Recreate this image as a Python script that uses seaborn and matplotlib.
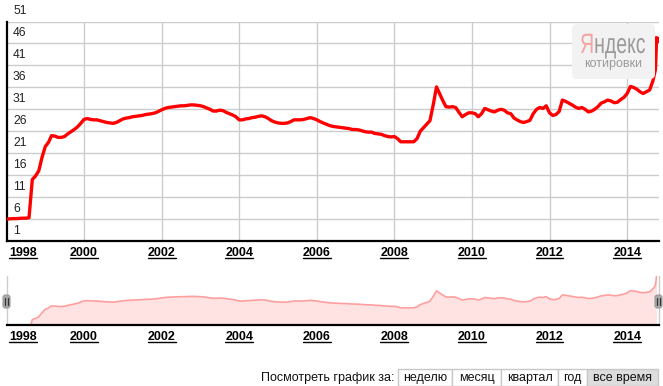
import matplotlib
matplotlib.use('Agg')
import matplotlib.pyplot as plt
import matplotlib.transforms as mtransforms
from matplotlib.patches import FancyBboxPatch, Rectangle, PathPatch
from matplotlib.lines import Line2D
from matplotlib.textpath import TextPath
from matplotlib.font_manager import FontProperties
import pandas as pd
import seaborn as sns

# USD/RUB, first of every month, Jan 1998 .. Sep 2014
rate_1998 = [6.0, 6.05, 6.1, 6.1, 6.15, 6.2, 6.2, 6.3, 15.0, 15.8, 17.0, 20.0]
rate_1999 = [22.5, 23.5, 25.0, 24.9, 24.6, 24.6, 24.8, 25.4, 25.9, 26.4, 27.0, 27.8]
rate_2000 = [28.7, 28.9, 28.7, 28.6, 28.6, 28.4, 28.2, 28.0, 27.9, 27.8, 28.0, 28.4]
rate_2001 = [28.8, 29.0, 29.1, 29.3, 29.4, 29.5, 29.6, 29.8, 29.9, 30.0, 30.2, 30.5]
rate_2002 = [30.9, 31.2, 31.4, 31.5, 31.6, 31.7, 31.8, 31.8, 31.9, 32.0, 32.0, 31.9]
rate_2003 = [31.8, 31.6, 31.3, 31.0, 30.6, 30.6, 30.8, 30.7, 30.3, 30.0, 29.7, 29.3]
rate_2004 = [28.6, 28.6, 28.8, 28.9, 29.1, 29.2, 29.4, 29.5, 29.3, 28.9, 28.4, 28.1]
rate_2005 = [27.9, 27.8, 27.8, 27.9, 28.2, 28.6, 28.6, 28.6, 28.7, 28.9, 29.1, 28.9]
rate_2006 = [28.6, 28.2, 27.9, 27.6, 27.3, 27.1, 27.0, 26.9, 26.8, 26.7, 26.6, 26.4]
rate_2007 = [26.4, 26.3, 26.1, 25.9, 25.8, 25.8, 25.5, 25.4, 25.3, 25.0, 24.8, 24.7]
rate_2008 = [24.8, 24.3, 23.6, 23.6, 23.6, 23.6, 23.6, 24.3, 26.0, 26.8, 27.6, 28.4]
rate_2009 = [32.0, 36.1, 34.6, 33.0, 31.6, 31.5, 31.6, 31.4, 30.3, 29.3, 29.8, 30.2]
rate_2010 = [30.2, 30.0, 29.3, 30.0, 31.2, 30.9, 30.6, 30.4, 30.8, 31.0, 30.8, 30.2]
rate_2011 = [30.0, 29.0, 28.6, 28.2, 28.0, 28.2, 28.5, 30.0, 31.0, 31.4, 31.2, 31.8]
rate_2012 = [30.2, 29.6, 29.8, 30.5, 33.1, 32.8, 32.4, 32.0, 31.5, 31.2, 31.4, 31.0]
rate_2013 = [30.4, 30.6, 31.0, 31.6, 32.4, 32.7, 33.1, 32.9, 32.5, 32.6, 33.2, 33.7]
rate_2014 = [34.6, 36.2, 36.0, 35.6, 35.0, 34.6, 35.0, 35.4, 37.5]

# last few quotes of the run-up in autumn 2014
tail_dates = ['2014-09-24', '2014-09-30', '2014-10-04']
tail_rates = [40.0, 43.5, 46.8]

y_ticks = [1, 6, 11, 16, 21, 26, 31, 36, 41, 46, 51]
year_labels = ['1998', '2000', '2002', '2004', '2006', '2008', '2010', '2012', '2014']
period_buttons = ['неделю', 'месяц', 'квартал', 'год', 'все время']

monthly = (rate_1998 + rate_1999 + rate_2000 + rate_2001 + rate_2002 + rate_2003 +
           rate_2004 + rate_2005 + rate_2006 + rate_2007 + rate_2008 + rate_2009 +
           rate_2010 + rate_2011 + rate_2012 + rate_2013 + rate_2014)
dates = list(pd.date_range('1998-01-01', periods=len(monthly), freq='MS')) + list(pd.to_datetime(tail_dates))
df = pd.DataFrame({'date': dates, 'rate': monthly + tail_rates})

sns.set_style('white')
plt.rcParams['font.family'] = ['Liberation Sans', 'DejaVu Sans']

W, H = 663, 386
fig = plt.figure(figsize=(W / 100, H / 100), dpi=100)
px = mtransforms.IdentityTransform()


def box(x0, y0, x1, y1):
    # pixel box (top-left origin) -> figure fraction rect
    return [x0 / W, 1 - y1 / H, (x1 - x0) / W, (y1 - y0) / H]


x_left = pd.Timestamp('1998-01-01')
x_right = pd.Timestamp('2014-10-28')

# ---- main chart ----
ax = fig.add_axes(box(6.5, 21.5, 659, 241))
sns.lineplot(data=df, x='date', y='rate', ax=ax, color='#ff0000', linewidth=2.4, zorder=5)
sns.scatterplot(data=df.tail(1), x='date', y='rate', ax=ax, color='#ff0000', s=30,
                edgecolor='none', zorder=6, legend=False)
ax.set_xlim(x_left, x_right)
ax.set_ylim(y_ticks[0], y_ticks[-1])
ax.set_yticks(y_ticks)
ax.set_xticks(pd.to_datetime([y + '-01-01' for y in year_labels[1:]]))
ax.grid(True, color='#cccccc', linewidth=1)
ax.tick_params(length=0, labelleft=False, labelbottom=False)
ax.set_xlabel('')
ax.set_ylabel('')
for side in ['top', 'right']:
    ax.spines[side].set_visible(False)
for side in ['left', 'bottom']:
    ax.spines[side].set_color('black')
    ax.spines[side].set_linewidth(1.6)

# value labels sit just above their grid line
ylab_tr = mtransforms.offset_copy(mtransforms.blended_transform_factory(ax.transAxes, ax.transData),
                                  fig=fig, x=0, y=3.0, units='points')
for v in y_ticks:
    ax.text(0.01, v, str(v), transform=ylab_tr, ha='left', va='bottom', fontsize=8.7,
            color='#222222', clip_on=False)

# ---- navigator ----
nav = fig.add_axes(box(6.5, 276, 659, 325))
nav.fill_between(df['date'], df['rate'], 0, color='#ffe3e3', linewidth=0)
sns.lineplot(data=df, x='date', y='rate', ax=nav, color='#ff9e9e', linewidth=1.2)
nav.set_xlim(x_left, x_right)
nav.set_ylim(11, 47)
nav.set_xticks([])
nav.set_yticks([])
nav.set_xlabel('')
nav.set_ylabel('')
nav.spines['top'].set_visible(False)
nav.spines['bottom'].set_color('black')
nav.spines['bottom'].set_linewidth(1.6)
for side in ['left', 'right']:
    nav.spines[side].set_color('#cccccc')
    nav.spines[side].set_linewidth(1)

# slider handles
for hx in [6.5, 658.5]:
    fig.add_artist(FancyBboxPatch((hx - 3.5, H - 308), 7, 13, boxstyle='round,pad=0,rounding_size=2.5',
                                  facecolor='#a8a8a8', edgecolor='#999999', linewidth=0.8,
                                  transform=px))
    for dx in [-1.2, 1.2]:
        fig.add_artist(Line2D([hx + dx, hx + dx], [H - 305, H - 298], color='#333333',
                              linewidth=0.9, transform=px))

# ---- year labels, bold and underlined ----
year_texts = []
for a, top_px in [(ax, 247), (nav, 331)]:
    tr = mtransforms.blended_transform_factory(a.transData, px)
    for lab in year_labels:
        d = pd.Timestamp(lab + '-01-01')
        if lab == year_labels[0]:
            t = fig.text(9 / W, 1 - top_px / H, lab, ha='left', va='top', fontsize=9,
                         fontweight='bold', color='black')
        else:
            t = a.text(d, H - top_px, lab, transform=tr, ha='center', va='top', fontsize=9,
                       fontweight='bold', color='black', clip_on=False)
        year_texts.append(t)

# ---- watermark ----
fig.add_artist(FancyBboxPatch((572, H - 79), 83, 55, boxstyle='round,pad=0,rounding_size=5',
                              facecolor='#f2f2f2', edgecolor='none', transform=px))
logo_font = FontProperties(family='Liberation Sans')
path_all = TextPath((0, 0), 'Яндекс', size=28, prop=logo_font)
path_ya = TextPath((0, 0), 'Я', size=28, prop=logo_font)
path_rest = TextPath((0, 0), 'ндекс', size=28, prop=logo_font)
ext = path_all.get_extents()
sx = 64 / ext.width
shift = ext.x1 - path_rest.get_extents().x1
for p, dx, col in [(path_ya, 0, '#f4a3a3'), (path_rest, shift, '#9a9a9a')]:
    tf = mtransforms.Affine2D().translate(dx - ext.x0, 0).scale(sx, 1).translate(581, H - 53) + px
    fig.add_artist(PathPatch(p, transform=tf, facecolor=col, edgecolor='none'))
fig.text(613.5, H - 64, 'котировки', transform=px, ha='center', va='center', fontsize=9,
         color='#9a9a9a')

# ---- period switcher ----
fig.text(394, H - 378, 'Посмотреть график за:', transform=px, ha='right', va='center',
         fontsize=9, color='#111111')
edges = [398, 452, 501, 558, 587, 658]
for i, lab in enumerate(period_buttons):
    x0, x1 = edges[i], edges[i + 1]
    face = '#dddddd' if lab == period_buttons[-1] else 'white'
    fig.add_artist(Rectangle((x0, H - 385.5), x1 - x0, 16.5, facecolor=face, edgecolor='#c8c8c8',
                             linewidth=1, transform=px))
    fig.text((x0 + x1) / 2, H - 378, lab, transform=px, ha='center', va='center',
             fontsize=9, color='#111111')

# underline the year labels once their size is known
fig.canvas.draw()
renderer = fig.canvas.get_renderer()
for t in year_texts:
    bb = t.get_window_extent(renderer)
    fig.add_artist(Line2D([bb.x0, bb.x1], [bb.y0 + 1.5, bb.y0 + 1.5], color='black',
                          linewidth=1, transform=px))

fig.savefig('out.png', dpi=100)
